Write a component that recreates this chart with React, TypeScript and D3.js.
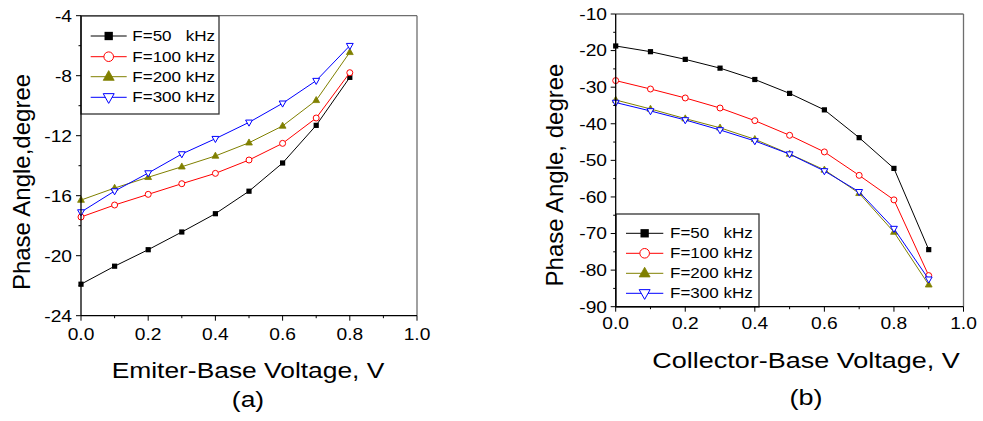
import React from "react";
import * as d3 from "d3";

const voltageA = [0, 0.1, 0.2, 0.3, 0.4, 0.5, 0.6, 0.7, 0.8];
const voltageB = [0, 0.1, 0.2, 0.3, 0.4, 0.5, 0.6, 0.7, 0.8, 0.9];

const seriesLabels = ["F=50   kHz", "F=100 kHz", "F=200 kHz", "F=300 kHz"];

const a50 = [-21.9, -20.7, -19.6, -18.42, -17.2, -15.7, -13.82, -11.31, -8.11];
const a100 = [-17.42, -16.62, -15.91, -15.2, -14.51, -13.62, -12.51, -10.82, -7.8];
const a200 = [-16.29, -15.49, -14.77, -14.07, -13.35, -12.47, -11.35, -9.64, -6.44];
const a300 = [-17.09, -15.69, -14.49, -13.22, -12.2, -11.11, -9.84, -8.33, -6.0];

const b50 = [-18.74, -20.3, -22.4, -24.8, -27.9, -31.7, -36.2, -43.8, -52.2, -74.4];
const b100 = [-28.2, -30.5, -32.95, -35.7, -39.15, -43.15, -47.7, -54.1, -60.8, -81.5];
const b200 = [-33.5, -35.95, -38.6, -41.1, -44.25, -48.25, -52.6, -59.0, -69.6, -84.0];
const b300 = [-34.2, -36.5, -38.96, -41.7, -44.7, -48.3, -52.9, -58.6, -68.66, -82.5];

const xTicks = [0, 0.2, 0.4, 0.6, 0.8, 1.0];
const xMinor = [0.1, 0.3, 0.5, 0.7, 0.9];
const yTicksA = [-24, -20, -16, -12, -8, -4];
const yMinorA = [-22, -18, -14, -10, -6];
const yTicksB = [-90, -80, -70, -60, -50, -40, -30, -20, -10];
const yMinorB = [-85, -75, -65, -55, -45, -35, -25, -15];

const colors = ["#000000", "#ff0000", "#808000", "#0000ff"];
const markers = ["square", "circle", "triangle", "downTriangle"];

const FONT = "'Liberation Sans', Arial, sans-serif";
const SX = 1.2;

function HText({ x, y, anchor = "start", size, children }: any) {
  return (
    <text
      transform={`translate(${x},${y}) scale(${SX},1)`}
      textAnchor={anchor}
      fontSize={size}
      fontFamily={FONT}
      fill="#000"
      style={{ whiteSpace: "pre" }}
    >
      {children}
    </text>
  );
}

function Marker({ type, x, y, color, big }: any) {
  const s = big ? 1.6 : 1;
  if (type === "square") {
    const h = 2.6 * s;
    return <rect x={x - h} y={y - h} width={2 * h} height={2 * h} fill={color} />;
  }
  if (type === "circle") {
    return <circle cx={x} cy={y} r={3 * s} fill="#fff" stroke={color} strokeWidth={1} />;
  }
  if (type === "triangle") {
    const r = 3.8 * s;
    const p = `${x},${y - r} ${x + r * 0.9},${y + r * 0.6} ${x - r * 0.9},${y + r * 0.6}`;
    return <polygon points={p} fill={color} stroke={color} strokeWidth={0.8} />;
  }
  const r = 3.8 * s;
  const p = `${x},${y + r} ${x + r * 0.9},${y - r * 0.6} ${x - r * 0.9},${y - r * 0.6}`;
  return <polygon points={p} fill="#fff" stroke={color} strokeWidth={1} />;
}

function Panel({ cfg }: any) {
  const x = d3.scaleLinear().domain([0, 1]).range([cfg.x0, cfg.x1]);
  const y = d3.scaleLinear().domain(cfg.yDomain).range([cfg.y1, cfg.y0]);
  const line = d3
    .line<[number, number]>()
    .x((d) => x(d[0]))
    .y((d) => y(d[1]));
  const lg = cfg.legend;
  return (
    <g>
      {/* frame top/right */}
      <line x1={cfg.x0} x2={cfg.x1} y1={cfg.y0} y2={cfg.y0} stroke="#6e6e6e" strokeWidth={1.3} />
      <line x1={cfg.x1} x2={cfg.x1} y1={cfg.y0} y2={cfg.y1} stroke="#6e6e6e" strokeWidth={1.3} />
      {/* series */}
      {cfg.series.map((vals: number[], i: number) => {
        const pts: [number, number][] = cfg.xs.map((v: number, j: number) => [v, vals[j]]);
        return (
          <g key={i}>
            <path d={line(pts) || ""} fill="none" stroke={colors[i]} strokeWidth={1} />
            {pts.map((p, j) => (
              <Marker key={j} type={markers[i]} x={x(p[0])} y={y(p[1])} color={colors[i]} />
            ))}
          </g>
        );
      })}
      {/* legend */}
      <rect x={lg.x0} y={lg.y0} width={lg.x1 - lg.x0} height={lg.y1 - lg.y0} fill="#fff" stroke="#333" strokeWidth={1.3} />
      {seriesLabels.map((lab, i) => (
        <g key={i}>
          <line x1={lg.lx0} x2={lg.lx1} y1={lg.rows[i]} y2={lg.rows[i]} stroke={colors[i]} strokeWidth={1} />
          <Marker type={markers[i]} x={(lg.lx0 + lg.lx1) / 2} y={lg.rows[i]} color={colors[i]} big />
          <HText x={lg.tx} y={lg.rows[i] + 5} size={14.2}>
            {lab}
          </HText>
        </g>
      ))}
      {/* axes */}
      <line x1={cfg.x0} x2={cfg.x0} y1={cfg.y0} y2={cfg.y1} stroke="#000" strokeWidth={1.3} />
      <line x1={cfg.x0} x2={cfg.x1} y1={cfg.y1} y2={cfg.y1} stroke="#000" strokeWidth={1.3} />
      {cfg.yTicks.map((t: number) => (
        <g key={"y" + t}>
          <line x1={cfg.x0 - 5} x2={cfg.x0} y1={y(t)} y2={y(t)} stroke="#000" strokeWidth={1} />
          <HText x={cfg.yLabelX} y={y(t) + 5.8} anchor="end" size={16}>
            {String(t)}
          </HText>
        </g>
      ))}
      {cfg.yMinor.map((t: number) => (
        <line key={"ym" + t} x1={cfg.x0 - 2.5} x2={cfg.x0} y1={y(t)} y2={y(t)} stroke="#000" strokeWidth={1} />
      ))}
      {xTicks.map((t) => (
        <g key={"x" + t}>
          <line x1={x(t)} x2={x(t)} y1={cfg.y1} y2={cfg.y1 + 5} stroke="#000" strokeWidth={1} />
          <HText x={x(t)} y={cfg.xLabelY} anchor="middle" size={16}>
            {t.toFixed(1)}
          </HText>
        </g>
      ))}
      {xMinor.map((t) => (
        <line key={"xm" + t} x1={x(t)} x2={x(t)} y1={cfg.y1} y2={cfg.y1 + 2.5} stroke="#000" strokeWidth={1} />
      ))}
      <HText x={cfg.titleX} y={cfg.titleY} anchor="middle" size={cfg.titleSize}>
        {cfg.xTitle}
      </HText>
      <HText x={cfg.titleX} y={cfg.capY} anchor="middle" size={cfg.titleSize}>
        {cfg.caption}
      </HText>
      <text
        transform={`translate(${cfg.yTitleX},${cfg.yTitleY}) rotate(-90)`}
        textAnchor="middle"
        fontSize={cfg.yTitleSize}
        fontFamily={FONT}
        fill="#000"
      >
        {cfg.yTitle}
      </text>
    </g>
  );
}

const panelA = {
  x0: 81, x1: 417, y0: 15.7, y1: 315.7,
  yDomain: [-24, -4], yTicks: yTicksA, yMinor: yMinorA,
  xs: voltageA, series: [a50, a100, a200, a300],
  yLabelX: 72, xLabelY: 340,
  titleX: 248, titleY: 378, capY: 407, titleSize: 22,
  xTitle: "Emiter-Base Voltage, V", caption: "(a)",
  yTitleX: 30, yTitleY: 182, yTitleSize: 24, yTitle: "Phase Angle,degree",
  legend: { x0: 81, y0: 16, x1: 219, y1: 114, rows: [36, 56.7, 76.7, 97.3], lx0: 90.7, lx1: 126.7, tx: 132.3 },
};

const panelB = {
  x0: 615.7, x1: 963.5, y0: 14, y1: 306.7,
  yDomain: [-90, -10], yTicks: yTicksB, yMinor: yMinorB,
  xs: voltageB, series: [b50, b100, b200, b300],
  yLabelX: 607, xLabelY: 329,
  titleX: 806, titleY: 368, capY: 405, titleSize: 22.5,
  xTitle: "Collector-Base Voltage, V", caption: "(b)",
  yTitleX: 563, yTitleY: 175, yTitleSize: 24, yTitle: "Phase Angle, degree",
  legend: { x0: 616, y0: 214, x1: 759, y1: 307, rows: [233.3, 253.3, 273.3, 293.3], lx0: 626, lx1: 663.3, tx: 670 },
};

export default function App() {
  return (
    <svg
      width={983}
      height={421}
      style={{ position: "absolute", left: 0, top: 0, background: "#fff" }}
    >
      <rect width={983} height={421} fill="#fff" />
      <Panel cfg={panelA} />
      <Panel cfg={panelB} />
    </svg>
  );
}
